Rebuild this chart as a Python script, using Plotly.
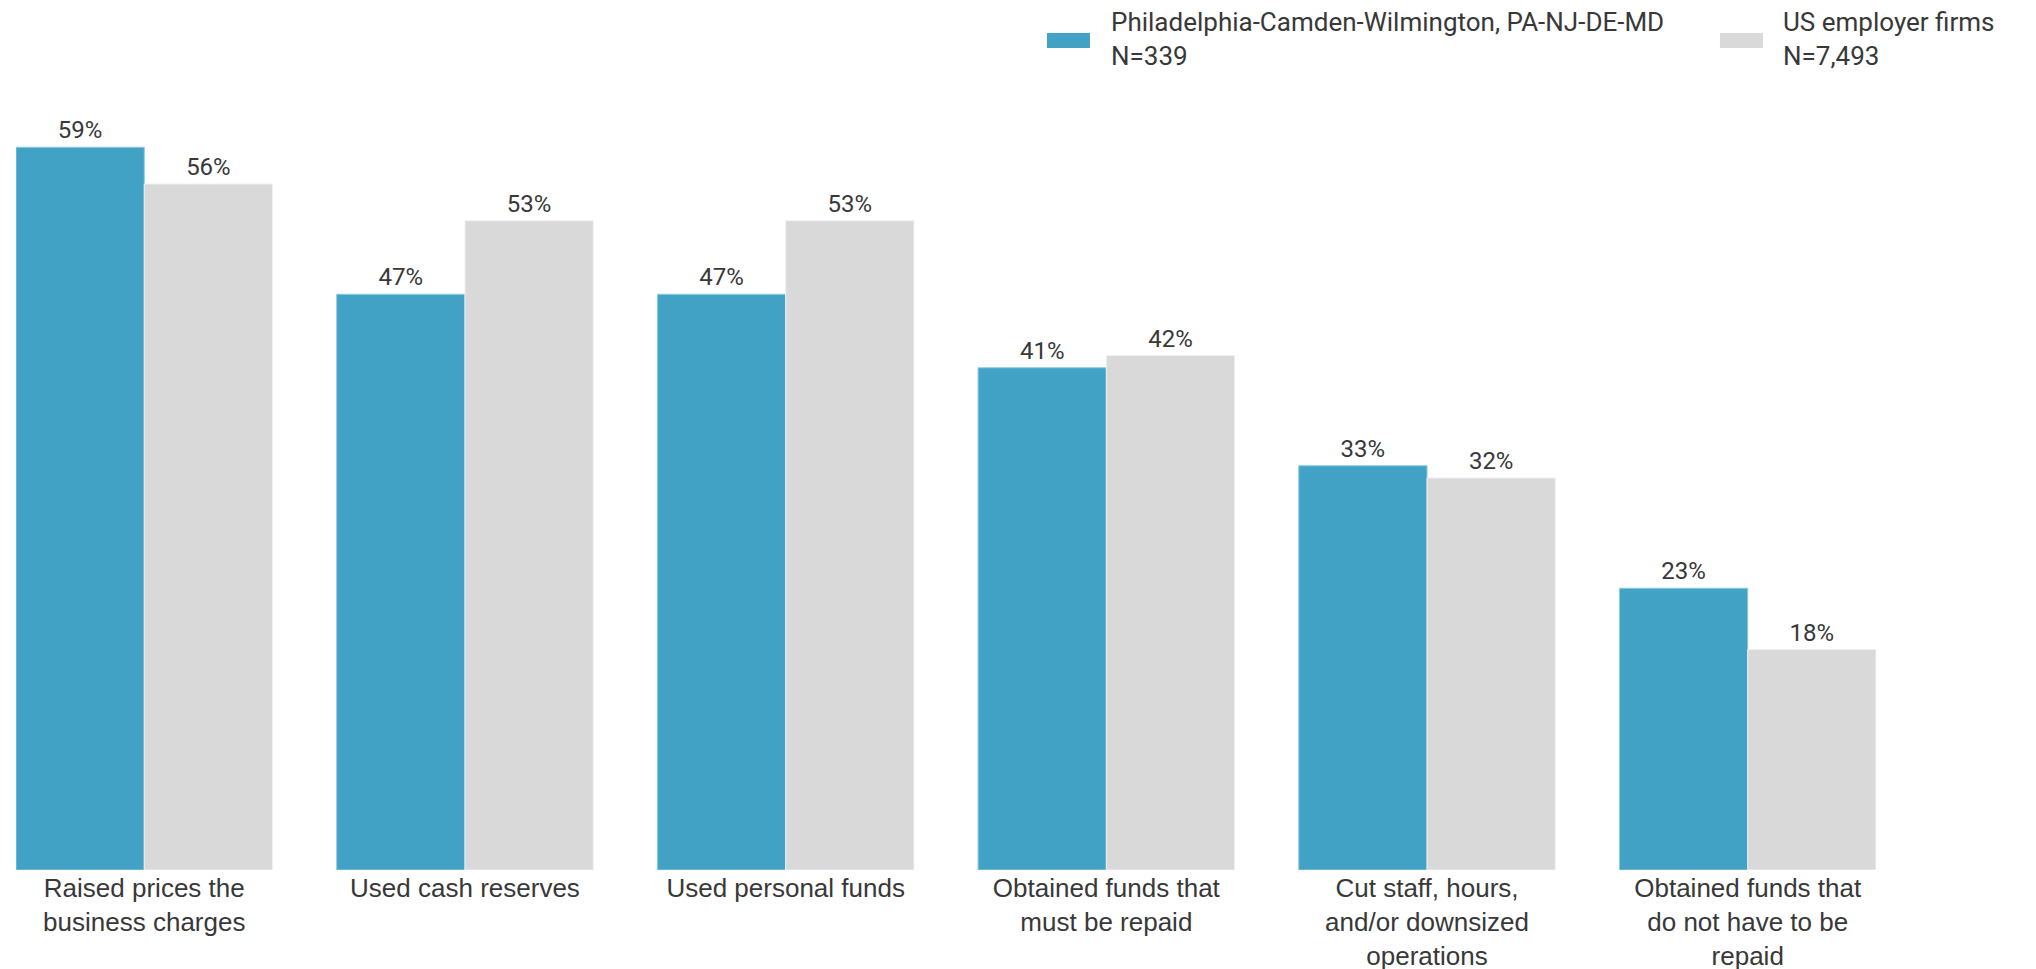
import plotly.graph_objects as go

# data
categories = [
    "Raised prices the<br>business charges",
    "Used cash reserves",
    "Used personal funds",
    "Obtained funds that<br>must be repaid",
    "Cut staff, hours,<br>and/or downsized<br>operations",
    "Obtained funds that<br>do not have to be<br>repaid",
]
metro_name = "Philadelphia-Camden-Wilmington, PA-NJ-DE-MD"
metro_n = "N=339"
metro_pct = [59, 47, 47, 41, 33, 23]
us_name = "US employer firms"
us_n = "N=7,493"
us_pct = [56, 53, 53, 42, 32, 18]

BLUE = "#42a2c6"
GREY = "#d9d9d9"
TXT = "#383838"

fig = go.Figure()
for name, vals, col, edge in [(metro_name, metro_pct, BLUE, "#8ccbe2"),
                              (us_name, us_pct, GREY, "#f0f0f0")]:
    fig.add_trace(go.Bar(
        x=categories, y=vals, name=name,
        marker=dict(color=col, line=dict(color=edge, width=1)),
        text=[f"{v}%" for v in vals], textposition="outside",
        textfont=dict(family="Roboto", size=24, color=TXT),
        cliponaxis=False,
    ))

# legend drawn by hand so the swatches match the wide flat blocks
legend = [(metro_name, metro_n, BLUE, 0.5543, 0.5882),
          (us_name, us_n, GREY, 0.9161, 0.9495)]
for name, n, col, sx, tx in legend:
    fig.add_shape(type="rect", xref="paper", yref="paper",
                  x0=sx, x1=sx + 0.0231, y0=1.1184, y1=1.1388,
                  fillcolor=col, line=dict(width=0))
    fig.add_annotation(xref="paper", yref="paper", x=tx, y=1.131,
                       xanchor="left", yanchor="middle", align="left",
                       text=f"{name}<br>{n}", showarrow=False, borderpad=0,
                       font=dict(family="Roboto", size=26, color=TXT))

fig.update_layout(
    width=2036, height=969,
    margin=dict(l=8, r=168, t=127, b=107),
    paper_bgcolor="white", plot_bgcolor="white",
    barmode="group", bargap=0.2, bargroupgap=0,
    showlegend=False,
    xaxis=dict(range=[-0.4, 5.4], showgrid=False, zeroline=False,
               showline=False, ticks="", automargin=False,
               tickfont=dict(family="Liberation Sans", size=26, color=TXT)),
    yaxis=dict(range=[0, 60], visible=False, automargin=False),
)

fig.write_html("out.html")
